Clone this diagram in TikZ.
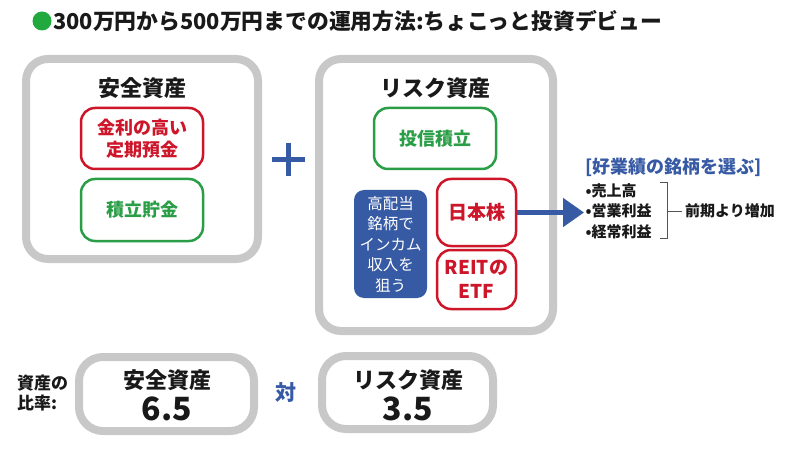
\documentclass[tikz,border=0pt]{standalone}
\usepackage{fontspec}
\setmainfont{Noto Sans CJK JP}
\usepackage{tikz}
\usetikzlibrary{arrows.meta}
\usetikzlibrary{positioning}

\definecolor{boxgray}{RGB}{200,200,200}
\definecolor{assetred}{RGB}{205,22,42}
\definecolor{assetgreen}{RGB}{42,158,70}
\definecolor{assetblue}{RGB}{55,90,165}
\definecolor{dotgreen}{RGB}{32,170,62}
\definecolor{inkblack}{RGB}{25,25,25}

\newcommand{\fsz}[2]{\fontsize{#1pt}{#2pt}\selectfont}

\begin{document}
\begin{tikzpicture}[x=1pt, y=-1pt, text=inkblack,
            bigbox/.style={draw=boxgray, line width=8pt, rounded corners=22pt},
            ratiobox/.style={draw=boxgray, line width=8pt, rounded corners=24pt},
            redbox/.style={draw=assetred, text=assetred, line width=2.5pt,
                rounded corners=14pt, align=center, font={\fsz{18}{22}\bfseries}},
            greenbox/.style={draw=assetgreen, text=assetgreen, line width=2.5pt,
                rounded corners=14pt, align=center, font={\fsz{18}{22}\bfseries}},
            bluebox/.style={fill=assetblue, text=white, rounded corners=10pt,
                align=center, font={\fsz{15.5}{20.5}}},
            headtext/.style={font={\fsz{22}{26}\bfseries}},
            itemtext/.style={anchor=west, font={\fsz{15}{18}\bfseries}}]
            \fill [white] (0, 0) rectangle (800, 449);
            \useasboundingbox (0, 0) rectangle (800, 449);
            % title
            \node [circle, fill=dotgreen, minimum size=19pt, inner sep=0] (dot) at (42, 21) {};
            \node [anchor=west, inner sep=0, font={\fsz{21.8}{24}\bfseries}] (title) at (53, 21)
                {300万円から500万円までの運用方法:ちょこっと投資デビュー};
            % safe assets
            \node [bigbox, minimum width=232pt, minimum height=200pt] (safe) at (142, 159) {};
            \node [headtext] (safehead) at (142, 88) {安全資産};
            \node [redbox, minimum width=122pt, minimum height=61pt] (deposit) at (142, 138.5)
                {金利の高い\\定期預金};
            \node [greenbox, minimum width=122pt, minimum height=62pt] (saving) at (142, 210) {積立貯金};
            \draw [assetblue, line width=5pt] (272, 159.5) -- (305, 159.5) (288.5, 143) -- (288.5, 176);
            % risk assets
            \node [bigbox, minimum width=234pt, minimum height=272pt] (risk) at (436, 195) {};
            \node [headtext] (riskhead) at (435, 88) {リスク資産};
            \node [greenbox, minimum width=122pt, minimum height=61pt] (fund) at (435, 138.5) {投信積立};
            \node [bluebox, minimum width=73pt, minimum height=108pt] (income) at (390.5, 244)
                {高配当\\銘柄で\\インカム\\収入を\\狙う};
            \node [redbox, minimum width=79pt, minimum height=67pt, font={\fsz{19}{23}\bfseries}]
                (stock) at (476.5, 212.5) {日本株};
            \node [redbox, minimum width=79pt, minimum height=59pt, font={\fsz{19}{24}\bfseries}]
                (reit) at (476.5, 279.5) {REITの\\ETF};
            \coordinate (tip) at (584, 212.5);
            \draw [assetblue, line width=5pt, -{Triangle[width=28pt, length=21pt]}] (stock.east) -- (tip);
            % stock picks
            \node [anchor=west, text=assetblue, font={\fsz{18}{22}\bfseries}] (pick) at (582, 167)
                {[好業績の銘柄を選ぶ]};
            \node [itemtext] (sales) at (582, 190.5) {•売上高};
            \node [itemtext] (opprofit) at (582, 211) {•営業利益};
            \node [itemtext] (ordprofit) at (582, 231.5) {•経常利益};
            \coordinate (brtop) at (660, 183);
            \coordinate (brbot) at (660, 238);
            \coordinate (brmid) at (667, 211);
            \draw [inkblack!75, line width=1pt] (brtop) -- ++(7, 0) -- ([xshift=7pt]brbot) -- (brbot);
            \node [anchor=west, inner sep=3pt, font={\fsz{15}{18}\bfseries}] (gain) at (682, 211) {前期より増加};
            \draw [inkblack!75, line width=1pt] (brmid) -- (gain.west);
            % ratio
            \node [anchor=west, align=left, inner sep=0, font={\fsz{17}{20.5}\bfseries}] (ratio) at (17, 393)
                {資産の\\比率:};
            \node [ratiobox, minimum width=175pt, minimum height=74pt] (safeshare) at (166.5, 394) {};
            \node [headtext] (safename) at (167, 380) {安全資産};
            \node [font={\fsz{32}{34}\bfseries}] (safevalue) at (167, 409) {6.5};
            \node [text=assetblue, font={\fsz{21}{24}\bfseries}] (versus) at (286, 393) {対};
            \node [ratiobox, minimum width=171pt, minimum height=73pt] (riskshare) at (407.5, 392.5) {};
            \node [headtext] (riskname) at (408, 380) {リスク資産};
            \node [font={\fsz{32}{34}\bfseries}] (riskvalue) at (408, 409) {3.5};
        \end{tikzpicture}
\end{document}
